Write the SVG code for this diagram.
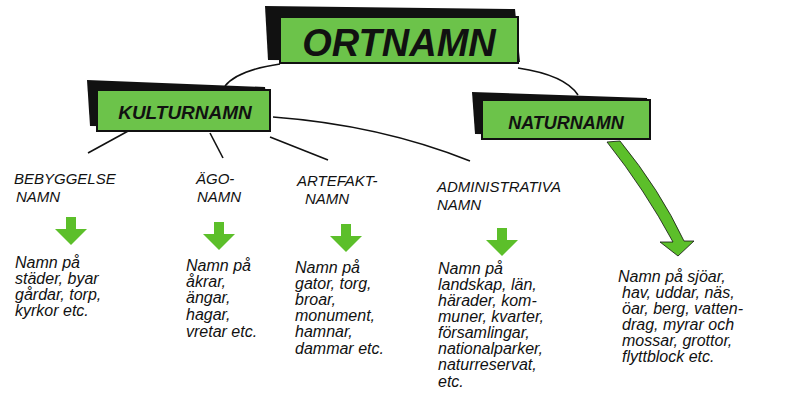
<svg xmlns="http://www.w3.org/2000/svg" width="800" height="405" viewBox="0 0 800 405">
<style>
.sh{fill:#111}.fr{fill:#6cc34a;stroke:#111;stroke-width:2}
.t{font-family:"Liberation Sans",sans-serif;font-style:italic;font-weight:bold;fill:#111;text-anchor:middle}
.c{font-family:"Liberation Sans",sans-serif;font-style:italic;font-size:16px;fill:#111}
.b{font-family:"Liberation Sans",sans-serif;font-style:italic;font-size:15px;fill:#111}
.ln{fill:none;stroke:#111;stroke-width:1.6}
.ar{fill:#5cbf2a}
</style>
<defs>
<path id="da" d="M-5,0 H5 V12 H16 L0,28 L-16,12 H-5 Z"/>
</defs>
<rect width="800" height="405" fill="#fff"/>
<g id="connectors">
<path class="ln" d="M280,64 Q238,70 225,86" stroke-width="4"/>
<path class="ln" d="M518,68 Q565,75 578,95" stroke-width="4"/>
<path class="ln" d="M130,130 L88,153"/>
<path class="ln" d="M210,133 L223,158"/>
<path class="ln" d="M270,137 L328,160"/>
<path class="ln" d="M273,117 Q380,125 470,161"/>
<path d="M607,142 L620,141 Q660,190 684,241 L694,241 L678,256 L660,242 L673,242 Q645,190 607,142 Z" fill="#5cbf2a" stroke="#111" stroke-width="0.8"/>
<use href="#da" x="71" y="217" class="ar"/>
<use href="#da" x="219" y="222" class="ar"/>
<use href="#da" x="346" y="224" class="ar"/>
<use href="#da" x="502" y="228" class="ar"/>
</g>
<g id="ortnamn">
<path class="sh" d="M265,6 L515,9 L520,62 L268,60 Z"/>
<rect class="fr" x="280" y="17" width="238" height="46"/>
<text class="t" x="399" y="56" font-size="38">ORTNAMN</text>
</g>
<g id="kulturnamn">
<path class="sh" d="M87,80 L265,87 L270,128 L90,126 Z"/>
<rect class="fr" x="97" y="90" width="173" height="41"/>
<text class="t" x="185" y="119" font-size="19">KULTURNAMN</text>
</g>
<g id="naturnamn">
<path class="sh" d="M472,92 L647,98 L650,136 L475,134 Z"/>
<rect class="fr" x="482" y="100" width="168" height="39"/>
<text class="t" x="566" y="129" font-size="18">NATURNAMN</text>
</g>
<g id="bebyggelse">
<text class="b" x="14" y="184">BEBYGGELSE</text><text class="b" x="16" y="202">NAMN</text>
<text class="c" x="15" y="268">Namn på</text><text class="c" x="15" y="284">städer, byar</text><text class="c" x="15" y="300">gårdar, torp,</text><text class="c" x="15" y="316">kyrkor etc.</text>
</g>
<g id="ago">
<text class="b" x="196" y="184">ÄGO-</text><text class="b" x="197" y="202">NAMN</text>
<text class="c" x="186" y="271">Namn på</text><text class="c" x="186" y="287">åkrar,</text><text class="c" x="186" y="303">ängar,</text><text class="c" x="186" y="320">hagar,</text><text class="c" x="186" y="337">vretar etc.</text>
</g>
<g id="artefakt">
<text class="b" x="297" y="186">ARTEFAKT-</text><text class="b" x="305" y="204">NAMN</text>
<text class="c" x="295" y="273">Namn på</text><text class="c" x="295" y="289">gator, torg,</text><text class="c" x="295" y="305">broar,</text><text class="c" x="295" y="321">monument,</text><text class="c" x="295" y="337">hamnar,</text><text class="c" x="295" y="354">dammar etc.</text>
</g>
<g id="administrativa">
<text class="b" x="437" y="192">ADMINISTRATIVA</text><text class="b" x="437" y="210">NAMN</text>
<text class="c" x="438" y="274">Namn på</text><text class="c" x="438" y="290">landskap, län,</text><text class="c" x="438" y="306">härader, kom-</text><text class="c" x="438" y="322">muner, kvarter,</text><text class="c" x="438" y="338">församlingar,</text><text class="c" x="438" y="354">nationalparker,</text><text class="c" x="438" y="370">naturreservat,</text><text class="c" x="438" y="387">etc.</text>
</g>
<g id="natur-text">
<text class="c" x="618" y="282">Namn på sjöar,</text><text class="c" x="622" y="298">hav, uddar, näs,</text><text class="c" x="622" y="314">öar, berg, vatten-</text><text class="c" x="622" y="330">drag, myrar och</text><text class="c" x="622" y="346">mossar, grottor,</text><text class="c" x="622" y="362">flyttblock etc.</text>
</g>
</svg>
